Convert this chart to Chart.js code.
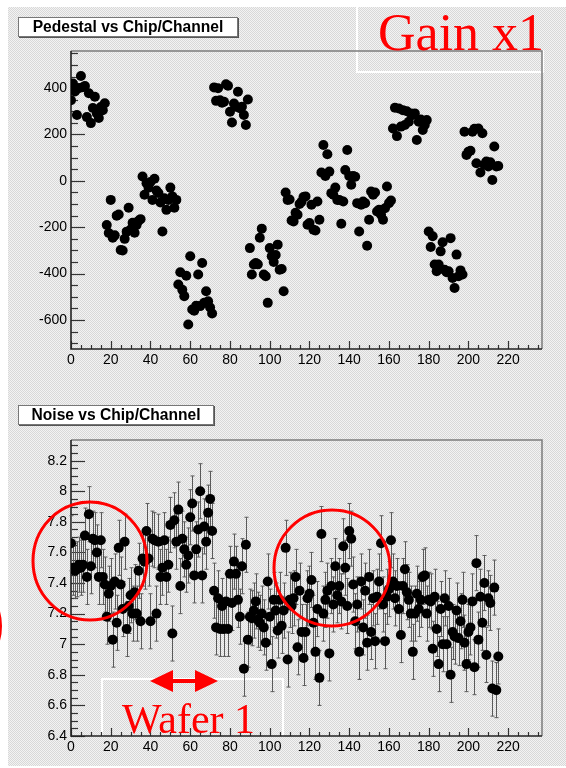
<!DOCTYPE html>
<html>
<head>
<meta charset="utf-8">
<script src="https://cdn.jsdelivr.net/npm/chart.js@4.4.0/dist/chart.umd.min.js"></script>
<style>
  html, body { margin: 0; padding: 0; }
  body { width: 566px; height: 768px; position: relative; overflow: hidden; background: #fff; }
  #paper {
    position: absolute; left: 8px; top: 7px; right: 0; bottom: 2px;
    background: repeating-conic-gradient(#d8d8d8 0 25%, #f3f3f3 0 50%) 0 0 / 2px 2px;
  }
  canvas, svg { position: absolute; left: 0; }
  svg { top: 0; pointer-events: none; }
  .title {
    position: absolute; box-sizing: border-box; background: #fff;
    border: 1px solid #777; box-shadow: 1px 1px 0 #555;
    font: bold 15.6px "Liberation Sans", Arial, sans-serif; color: #000;
    text-align: center; white-space: nowrap;
  }
</style>
</head>
<body>
<div id="paper"></div>
<svg width="566" height="768">
  <g fill="none" stroke="#fff" stroke-width="2">
    <path d="M357 7 V72 H543 V50"/>
    <path d="M102 737 V679 H283 V737"/>
  </g>
</svg>
<canvas id="ped" width="566" height="390" style="top:0"></canvas>
<canvas id="noise" width="566" height="378" style="top:390px"></canvas>
<div class="title" style="left:18px;top:17px;width:220px;height:20px;line-height:18px">Pedestal vs Chip/Channel</div>
<div class="title" style="left:18px;top:405px;width:196px;height:20px;line-height:18px">Noise vs Chip/Channel</div>
<svg width="566" height="768">
  <g fill="none" stroke="#ff0000" stroke-width="3">
    <ellipse cx="90" cy="561" rx="57" ry="59"/>
    <ellipse cx="332" cy="568" rx="58" ry="58"/>
    <circle cx="-50" cy="626" r="50.5"/>
  </g>
  <g fill="#ff0000">
    <rect x="168" y="679" width="32" height="4"/>
    <polygon points="150,681 173,670 173,692"/>
    <polygon points="218,681 195,670 195,692"/>
  </g>
  <g fill="#ff0000" font-family="'Liberation Serif', 'Times New Roman', serif">
    <text x="378" y="50" font-size="52">Gain x1</text>
    <text x="122" y="733" font-size="42">Wafer 1</text>
  </g>
</svg>
<script>
// pedestal per channel, 12 chips x 18 channels
const PEDESTAL = [
  348, 420, 385, 284, 400, 452, 404, 409, 275, 378, 249, 314, 363, 291, 271, 318, 305, 335,
  -190, -225, -82, -245, -235, -150, -145, -298, -300, -250, -219, -116, -210, -181, -224, -190, -172, -165,
  19, -60, -10, -30, -5, -82, 9, -42, -52, -93, -218, -75, -125, -82, -29, -67, -116, -82,
  -447, -394, -470, -497, -409, -619, -325, -555, -560, -538, -404, -540, -354, -526, -476, -519, -546, -572,
  403, 345, 399, 348, 337, 341, 417, 410, 298, 252, 334, 320, 384, 313, 320, 284, 241, 351,
  -290, -404, -361, -354, -360, -245, -206, -404, -411, -526, -290, -325, -350, -320, -275, -383, -380, -476,
  -50, -82, -80, -171, -175, -138, -146, -100, -90, -70, -67, -189, -182, -103, -211, -214, -89, -168,
  36, 155, 21, 115, 40, -53, -60, -29, -82, -82, -185, -89, 47, 133, 21, -17, 21, 18,
  -96, -218, -103, -89, -96, -280, -168, -46, -60, -50, -132, -125, -146, -168, -118, -24, -96, -85,
  226, 315, 193, 312, 234, 305, 241, 300, 255, 291, 284, 291, 176, 255, 265, 219, 241, 262,
  -218, -285, -239, -361, -390, -361, -304, -265, -383, -394, -390, -247, -419, -462, -318, -411, -386, -404,
  212, 112, 126, 130, 212, 225, 76, 226, 36, 205, 70, 83, 62, 80, 4, 148, 62, 64
];

// noise per channel
const NOISE = [
  7.66, 7.50, 7.48, 7.49, 7.52, 7.50, 7.52, 7.71, 7.44, 7.85, 7.51, 7.69, 7.68, 7.60, 7.44, 7.68, 7.44, 7.39,
  7.18, 7.33, 7.38, 7.03, 7.41, 7.14, 7.63, 7.39, 7.23, 7.67, 7.10, 7.25, 7.32, 7.20, 7.34, 7.20, 7.48, 7.15,
  7.56, 7.54, 7.74, 7.56, 7.15, 7.69, 7.68, 7.20, 7.67, 7.44, 7.50, 7.68, 7.44, 7.52, 7.78, 7.07, 7.81, 7.67,
  7.88, 7.38, 7.69, 7.62, 7.52, 7.58, 7.83, 7.92, 7.45, 7.62, 7.75, 8.00, 7.45, 7.77, 7.67, 7.86, 7.95, 7.74,
  7.35, 7.11, 7.30, 7.10, 7.25, 7.10, 7.28, 7.10, 7.46, 7.27, 7.54, 7.46, 7.29, 7.18, 7.51, 6.84, 7.65, 7.03,
  7.18, 7.17, 7.22, 7.28, 7.16, 7.14, 7.20, 7.11, 7.01, 7.41, 7.18, 6.87, 7.29, 7.22, 7.09, 7.29, 7.12, 7.22,
  7.63, 6.90, 7.29, 7.25, 7.30, 7.44, 6.98, 7.35, 7.08, 6.91, 7.08, 7.30, 7.33, 7.42, 7.14, 6.95, 7.23, 6.78,
  7.72, 7.20, 7.29, 7.35, 6.94, 7.38, 7.26, 7.51, 7.32, 7.38, 7.28, 7.64, 7.50, 7.25, 7.74, 7.69, 7.39, 7.15,
  7.26, 6.95, 7.41, 7.11, 7.35, 7.01, 7.44, 7.08, 7.30, 7.02, 7.31, 7.41, 7.66, 7.26, 7.02, 7.31, 7.36, 7.68,
  7.41, 7.30, 7.38, 7.23, 7.06, 7.38, 7.49, 7.34, 7.29, 7.20, 6.95, 7.20, 7.33, 7.23, 7.29, 7.44, 7.45, 7.20,
  7.29, 7.28, 6.97, 7.31, 7.10, 6.87, 7.23, 7.00, 7.30, 7.00, 7.25, 6.80, 7.08, 7.05, 7.22, 7.04, 7.15, 7.29,
  7.01, 6.87, 7.08, 7.11, 7.28, 6.85, 7.53, 7.03, 7.31, 7.14, 7.40, 6.93, 7.30, 7.27, 6.71, 7.37, 6.70, 6.92
];
const NOISE_ERR = 0.18;

const X_RANGE = [0, 237];
const PED_RANGE = [-725, 560];
const NOISE_RANGE = [6.4, 8.335];

const FONT = { family: '"Liberation Sans", Arial, sans-serif', size: 14 };

// ROOT style frame with inward major/minor ticks
const rootFrame = {
  id: 'rootFrame',
  beforeDatasetsDraw(chart, args, o) {
    const { ctx, chartArea: a, scales: { x, y } } = chart;
    ctx.save();
    ctx.strokeStyle = '#7c7c7c';
    ctx.lineWidth = 1.5;
    ctx.beginPath();
    ctx.moveTo(a.left, a.top); ctx.lineTo(a.right, a.top); ctx.lineTo(a.right, a.bottom);
    ctx.stroke();

    ctx.strokeStyle = '#333';
    ctx.lineWidth = 1.2;
    const isMajor = (v, step) => Math.abs(v / step - Math.round(v / step)) < 1e-6;
    for (let k = Math.ceil(x.min / o.xMinor); k * o.xMinor <= x.max; k++) {
      const v = k * o.xMinor;
      const px = Math.round(x.getPixelForValue(v)) + 0.5;
      const len = isMajor(v, o.xMajor) ? 8 : 4;
      ctx.beginPath(); ctx.moveTo(px, a.bottom); ctx.lineTo(px, a.bottom - len); ctx.stroke();
    }
    for (let k = Math.ceil(y.min / o.yMinor - 1e-6); k * o.yMinor <= y.max + 1e-9; k++) {
      const v = k * o.yMinor;
      const py = Math.round(y.getPixelForValue(v)) + 0.5;
      const len = isMajor(v, o.yMajor) ? 14 : 7;
      ctx.beginPath(); ctx.moveTo(a.left, py); ctx.lineTo(a.left + len, py); ctx.stroke();
    }

    ctx.strokeStyle = '#222';
    ctx.lineWidth = 1.6;
    ctx.beginPath();
    ctx.moveTo(a.left, a.top); ctx.lineTo(a.left, a.bottom); ctx.lineTo(a.right, a.bottom);
    ctx.stroke();
    ctx.restore();
  }
};

const errorBars = {
  id: 'errorBars',
  beforeDatasetsDraw(chart, args, o) {
    if (!o.err) return;
    const { ctx, scales: { y } } = chart;
    const meta = chart.getDatasetMeta(0);
    ctx.save();
    ctx.strokeStyle = '#5a5a5a';
    ctx.lineWidth = 1;
    meta.data.forEach((pt, i) => {
      const v = NOISE[i];
      const px = Math.round(pt.x) + 0.5;
      const top = y.getPixelForValue(v + o.err);
      const bot = y.getPixelForValue(v - o.err);
      ctx.beginPath();
      ctx.moveTo(px, top); ctx.lineTo(px, bot);
      ctx.moveTo(px - 2, top); ctx.lineTo(px + 2, top);
      ctx.moveTo(px - 2, bot); ctx.lineTo(px + 2, bot);
      ctx.stroke();
    });
    ctx.restore();
  }
};

function makeChart(id, values, yRange, opts) {
  return new Chart(document.getElementById(id), {
    type: 'scatter',
    data: {
      datasets: [{
        data: values.map((v, i) => ({ x: i, y: v })),
        backgroundColor: '#000',
        borderWidth: 0,
        pointRadius: 5,
        pointHoverRadius: 5
      }]
    },
    options: {
      responsive: false,
      animation: false,
      devicePixelRatio: 1,
      layout: { padding: { left: 0, top: opts.top, right: 24, bottom: 0 } },
      plugins: {
        legend: { display: false },
        tooltip: { enabled: false },
        rootFrame: { xMajor: 20, xMinor: 5, yMajor: opts.yMajor, yMinor: opts.yMinor },
        errorBars: { err: opts.err || 0 }
      },
      scales: {
        x: {
          type: 'linear', min: X_RANGE[0], max: X_RANGE[1],
          grid: { display: false, drawTicks: false },
          border: { display: false },
          ticks: { stepSize: 20, includeBounds: false, padding: 3, color: '#000', font: FONT, maxRotation: 0 },
          afterFit: s => { s.height = opts.xHeight; }
        },
        y: {
          type: 'linear', min: yRange[0], max: yRange[1],
          grid: { display: false, drawTicks: false },
          border: { display: false },
          ticks: {
            stepSize: opts.yMajor, includeBounds: false, padding: 4, color: '#000', font: FONT,
            callback: v => String(+v.toFixed(1))
          },
          afterFit: s => { s.width = 71; }
        }
      }
    },
    plugins: [rootFrame, errorBars]
  });
}

makeChart('ped', PEDESTAL, PED_RANGE, { top: 51, xHeight: 41, yMajor: 200, yMinor: 50 });
makeChart('noise', NOISE, NOISE_RANGE, { top: 50, xHeight: 32, yMajor: 0.2, yMinor: 0.05, err: NOISE_ERR });
</script>
</body>
</html>
